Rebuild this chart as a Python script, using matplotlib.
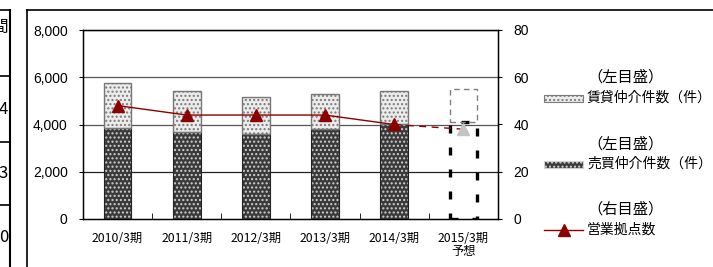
import matplotlib

matplotlib.use("Agg")
import matplotlib.pyplot as plt
from matplotlib.lines import Line2D
from matplotlib.patches import Rectangle

plt.rcParams["font.family"] = ["Noto Sans CJK JP", "DejaVu Sans"]
plt.rcParams["hatch.linewidth"] = 1.0

categories = ["2010/3期", "2011/3期", "2012/3期", "2013/3期", "2014/3期", "2015/3期\n予想"]
baibai = [3850, 3680, 3610, 3830, 4040]      # 売買仲介件数 (実績)
chintai = [1920, 1740, 1540, 1440, 1380]     # 賃貸仲介件数 (実績)
baibai_fc = 4100                             # 2015/3期 予想
chintai_fc = 1390
kyoten = [48, 44, 44, 44, 40]                # 営業拠点数
kyoten_fc = 38
left_ticks = [0, 2000, 4000, 6000, 8000]
right_ticks = [0, 20, 40, 60, 80]
table_vals = ["間", "4", "3", "0"]

W, H = 713, 267
fig = plt.figure(figsize=(W / 100, H / 100), dpi=100)


def fx(px):
    return px / W


def fy(py):
    return 1 - py / H


# 外枠と左の表の切れ端
fig.add_artist(Line2D([fx(27), fx(27)], [fy(10), 0], color="black", lw=1.2))
fig.add_artist(Line2D([fx(27), 1], [fy(10), fy(10)], color="black", lw=1.2))
fig.add_artist(Line2D([fx(10), fx(10)], [fy(10), 0], color="black", lw=1.5))
for yy in [10, 76, 142, 205]:
    fig.add_artist(Line2D([0, fx(10)], [fy(yy), fy(yy)], color="black", lw=1.2))
for yy, s in zip([27, 110, 173, 238], table_vals):
    fig.text(fx(8), fy(yy), s, ha="right", va="center", fontsize=12)

ax = fig.add_axes([fx(83), fy(219), fx(498) - fx(83), (219 - 30) / H])
x = list(range(len(categories)))
n = len(baibai)
bw = 0.4
num_font = ["Liberation Sans", "DejaVu Sans"]

# 売買 (下段)
ax.bar(x[:n], baibai, bw, color="#3a3a3a", edgecolor="#d0d0d0", hatch="....", lw=0, zorder=3)
ax.bar(x[:n], baibai, bw, fill=False, edgecolor="#222222", lw=0.8, zorder=4)
# 賃貸 (上段)
ax.bar(x[:n], chintai, bw, bottom=baibai, color="#ececec", edgecolor="#7a7a7a", hatch="....", lw=0, zorder=3)
ax.bar(x[:n], chintai, bw, bottom=baibai, fill=False, edgecolor="#777777", lw=1.0, zorder=4)
# 予想 (破線)
ax.bar(x[n], baibai_fc, bw, fill=False, edgecolor="black", lw=2.4, ls=(0, (2.4, 4.2)), zorder=4)
ax.bar(x[n], chintai_fc, bw, bottom=baibai_fc, fill=False, edgecolor="#808080", lw=1.0,
       ls=(0, (4, 3)), zorder=4)

ax.set_ylim(0, 8000)
ax.set_xlim(-0.5, len(categories) - 0.5)
ax.set_yticks(left_ticks)
ax.set_yticklabels([f"{v:,}" for v in left_ticks], fontsize=10, family=num_font)
ax.set_xticks(x)
ax.set_xticklabels(categories, fontsize=8.8, linespacing=1.05)
ax.set_xticks([i + 0.5 for i in x[:-1]], minor=True)
ax.tick_params(axis="x", which="major", length=0, pad=9)
ax.tick_params(axis="x", which="minor", direction="in", length=4)
ax.tick_params(axis="y", direction="out", length=3, pad=8)
for v in left_ticks[1:]:
    ax.axhline(v, color="#555555" if v != 2000 else "#222222", lw=0.9, zorder=1)
for s in ax.spines.values():
    s.set_linewidth(1.0)

ax2 = ax.twinx()
ax2.set_ylim(0, 80)
ax2.set_yticks(right_ticks)
ax2.set_yticklabels([str(v) for v in right_ticks], fontsize=10, family=num_font)
ax2.tick_params(axis="y", direction="out", length=3, pad=8)
red = "#8b0000"
ax2.plot(x[:n], kyoten, color=red, lw=1.0, marker="^", ms=9, zorder=5)
ax2.plot([x[n - 1], x[n]], [kyoten[-1], kyoten_fc], color=red, lw=1.0, ls=(0, (5, 4)), zorder=5)
ax2.plot([x[n]], [kyoten_fc], ls="none", marker="^", ms=9, color="#c4c4c4", zorder=6)

# 凡例
fs = 10
fs_head = 11
fig.text(fx(626), fy(77), "（左目盛）", ha="center", va="center", fontsize=fs_head)
fig.add_artist(Rectangle((fx(544), fy(102)), fx(39), 7 / H, facecolor="#ececec",
                         edgecolor="#7a7a7a", hatch="....", lw=0.8))
fig.text(fx(587), fy(98), "賃貸仲介件数（件）", ha="left", va="center", fontsize=fs)
fig.text(fx(626), fy(144), "（左目盛）", ha="center", va="center", fontsize=fs_head)
fig.add_artist(Rectangle((fx(544), fy(168)), fx(39), 7 / H, facecolor="#3a3a3a",
                         edgecolor="#d0d0d0", hatch="....", lw=0.8))
fig.text(fx(587), fy(164), "売買仲介件数（件）", ha="left", va="center", fontsize=fs)
fig.text(fx(626), fy(209), "（右目盛）", ha="center", va="center", fontsize=fs_head)
fig.add_artist(Line2D([fx(544), fx(583)], [fy(230), fy(230)], color=red, lw=1.0))
fig.add_artist(Line2D([fx(564)], [fy(230)], color=red, marker="^", ms=9, ls="none"))
fig.text(fx(587), fy(230), "営業拠点数", ha="left", va="center", fontsize=fs)

fig.savefig("out.png", dpi=100)
